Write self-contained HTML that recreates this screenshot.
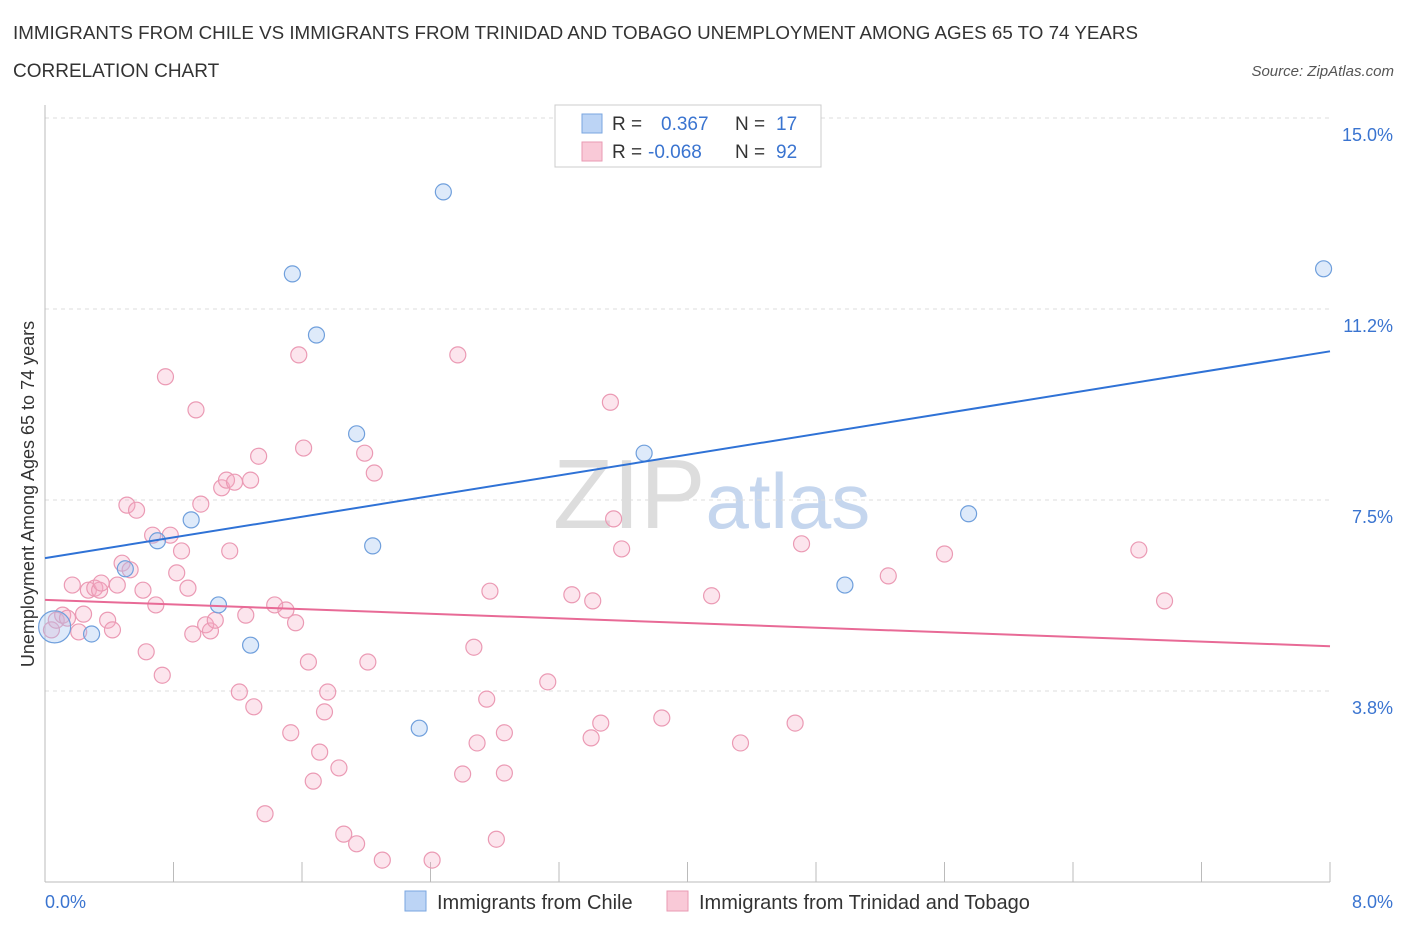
<!DOCTYPE html>
<html><head><meta charset="utf-8"><style>
body{margin:0;background:#fff;font-family:"Liberation Sans",sans-serif;}
svg text{font-family:"Liberation Sans",sans-serif;}
</style></head><body>
<svg id="chart" width="1406" height="930" xmlns="http://www.w3.org/2000/svg">
<text x="13" y="39" font-size="18" fill="#333" textLength="1125" lengthAdjust="spacingAndGlyphs">IMMIGRANTS FROM CHILE VS IMMIGRANTS FROM TRINIDAD AND TOBAGO UNEMPLOYMENT AMONG AGES 65 TO 74 YEARS</text>
<text x="13" y="77" font-size="19" fill="#333">CORRELATION CHART</text>
<text x="1394" y="76" font-size="15" font-style="italic" fill="#555" text-anchor="end">Source: ZipAtlas.com</text>
<text x="553" y="528" font-size="98" font-family="Liberation Serif" fill="#ddd">ZIP<tspan fill="#c5d6ee" font-family="Liberation Sans" font-size="78">atlas</tspan></text>
<g id="grid"></g><g id="axes"></g><g id="marks"></g>
<text transform="translate(34,494) rotate(-90)" font-size="18" fill="#333" text-anchor="middle">Unemployment Among Ages 65 to 74 years</text>
<text x="45" y="908" font-size="18" fill="#3a74d0">0.0%</text>
<text x="1393" y="908" font-size="18" fill="#3a74d0" text-anchor="end">8.0%</text>
<g>
<rect x="555" y="105" width="266" height="62" fill="#fff" stroke="#ccc"/>
<rect x="582" y="114" width="20" height="19" fill="#bcd4f5" stroke="#7aa6e0"/>
<rect x="582" y="142" width="20" height="19" fill="#f9c9d7" stroke="#e99ab3"/>
<text x="612" y="130" font-size="19" fill="#333">R = <tspan fill="#3a74d0" x="661">0.367</tspan><tspan x="735" fill="#333">N = </tspan><tspan fill="#3a74d0" x="776">17</tspan></text>
<text x="612" y="158" font-size="19" fill="#333">R = <tspan fill="#3a74d0" x="648">-0.068</tspan><tspan x="735" fill="#333">N = </tspan><tspan fill="#3a74d0" x="776">92</tspan></text>
</g>
<g>
<rect x="405" y="891" width="21" height="20" fill="#bcd4f5" stroke="#7aa6e0"/>
<text x="437" y="909" font-size="20" fill="#333">Immigrants from Chile</text>
<rect x="667" y="891" width="21" height="20" fill="#f9c9d7" stroke="#e99ab3"/>
<text x="699" y="909" font-size="20" fill="#333">Immigrants from Trinidad and Tobago</text>
</g>
</svg>
<script>
const yTicks=[15,11.25,7.5,3.75];
const yTickLabels=["15.0%","11.2%","7.5%","3.8%"];
const xTicks=[0,0.8,1.6,2.4,3.2,4,4.8,5.6,6.4,7.2,8];
const chileX=[0.06,0.29,0.50,0.70,0.91,1.08,1.28,1.54,1.69,1.94,2.04,2.33,2.48,3.73,4.98,5.75,7.96];
const chileY=[5.01,4.87,6.15,6.70,7.11,5.44,4.65,11.94,10.74,8.80,6.60,3.02,13.55,8.42,5.83,7.23,12.04];
const ttX=[0.04,0.07,0.11,0.14,0.17,0.21,0.24,0.27,0.31,0.34,0.35,0.39,0.42,0.45,0.48,0.51,0.53,0.57,0.61,0.63,0.67,0.69,0.73,0.75,0.78,0.82,0.85,0.89,0.92,0.94,0.97,1.00,1.03,1.06,1.10,1.13,1.15,1.18,1.21,1.25,1.28,1.30,1.33,1.37,1.43,1.50,1.53,1.56,1.58,1.61,1.64,1.67,1.71,1.74,1.76,1.83,1.86,1.94,1.99,2.01,2.05,2.10,2.41,2.57,2.60,2.67,2.69,2.75,2.77,2.86,2.86,2.81,3.13,3.28,3.40,3.41,3.46,3.52,3.54,3.59,3.84,4.15,4.33,4.67,4.71,5.25,5.60,6.81,6.97];
const ttY=[4.95,5.14,5.24,5.18,5.83,4.91,5.26,5.73,5.77,5.73,5.87,5.14,4.95,5.83,6.26,7.40,6.13,7.30,5.73,4.52,6.81,5.44,4.06,9.92,6.81,6.07,6.50,5.77,4.87,9.27,7.42,5.05,4.93,5.14,7.74,7.89,6.50,7.85,3.73,5.24,7.89,3.44,8.36,1.34,5.44,5.34,2.93,5.09,10.35,8.52,4.32,1.98,2.55,3.34,3.73,2.24,0.94,0.75,8.42,4.32,8.03,0.43,0.43,10.35,2.12,4.61,2.73,3.59,5.71,2.93,2.14,0.84,3.93,5.64,2.83,5.52,3.12,9.42,7.13,6.54,3.22,5.62,2.73,3.12,6.64,6.01,6.44,6.52,5.52];
const chileTrend=[6.36,10.42];
const ttTrend=[5.54,4.63];
const trendX=[0,8];
const NS="http://www.w3.org/2000/svg";
function sx(v){return 45+v*(1285/8);}
function sy(v){return 882-v*50.93;}
function mk(tag,attrs,parent){const e=document.createElementNS(NS,tag);for(const k in attrs)e.setAttribute(k,attrs[k]);document.getElementById(parent).appendChild(e);return e;}
yTicks.forEach((t,i)=>{
 const l=mk('line',{x1:45,x2:1330,y1:sy(t),y2:sy(t),stroke:'#ddd','stroke-dasharray':'4,4'},'grid');
 
 
 const tx=mk('text',{x:1393,y:sy(t)+23,'font-size':18,fill:'#3a74d0','text-anchor':'end'},'grid');
 tx.textContent=yTickLabels[i];
 
 
});
const ax=mk('line',{x1:45,x2:1330,y1:882,y2:882,stroke:'#bbb'},'axes');


const ay=mk('line',{x1:45,x2:45,y1:105,y2:882,stroke:'#bbb'},'axes');


xTicks.forEach(t=>{
 const l=mk('line',{x1:sx(t),x2:sx(t),y1:862,y2:882,stroke:'#bbb'},'axes');
 
 
});
ttX.forEach((x,i)=>{
 const c=mk('circle',{cx:sx(x),cy:sy(ttY[i]),r:8,fill:'rgba(246,170,195,0.3)',stroke:'#eb9ab4','stroke-width':1.2},'marks');
 
 
});
chileX.forEach((x,i)=>{
 const c=mk('circle',{cx:sx(x),cy:sy(chileY[i]),r:i===0?16:8,fill:'rgba(160,195,240,0.35)',stroke:'#6f9fdc','stroke-width':1.2},'marks');
 
 
});
const tl1=mk('line',{x1:sx(trendX[0]),x2:sx(trendX[1]),y1:sy(ttTrend[0]),y2:sy(ttTrend[1]),stroke:'#e86a96','stroke-width':2},'marks');


const tl2=mk('line',{x1:sx(trendX[0]),x2:sx(trendX[1]),y1:sy(chileTrend[0]),y2:sy(chileTrend[1]),stroke:'#2f72d6','stroke-width':2},'marks');


</script>
</body></html>
